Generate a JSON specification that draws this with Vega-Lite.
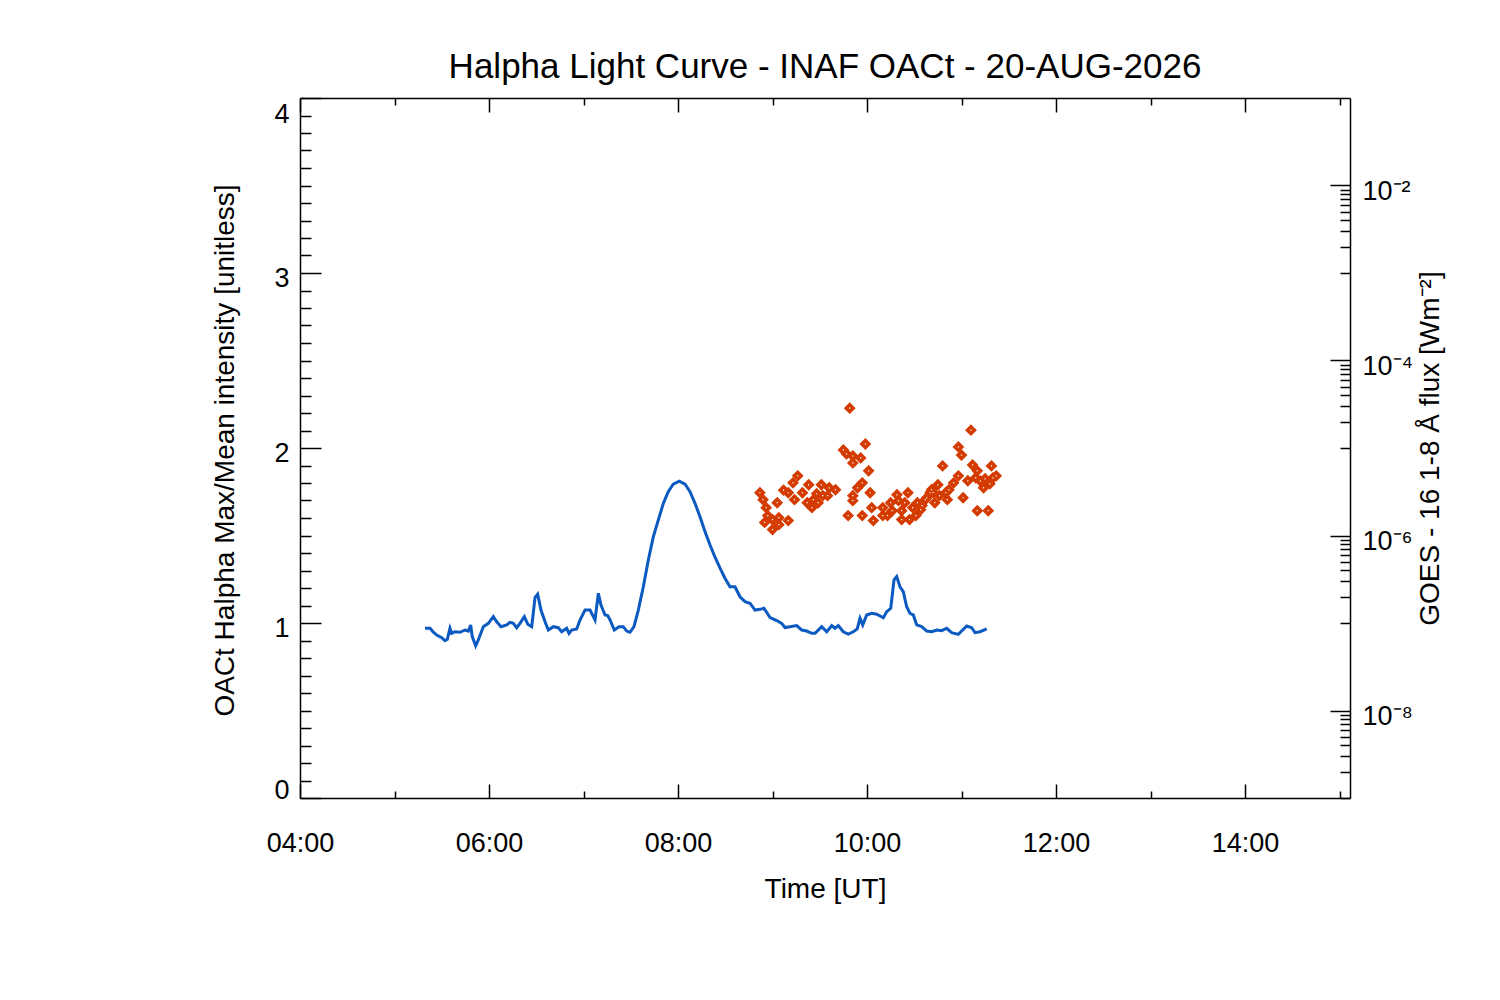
{
  "$schema": "https://vega.github.io/schema/vega-lite/v6.json",
  "autosize": {"type": "none"},
  "width": 1050,
  "height": 700,
  "padding": {"left": 300, "top": 98, "right": 150, "bottom": 202},
  "background": "white",
  "title": {
    "text": "Halpha Light Curve - INAF OACt - 20-AUG-2026",
    "font": "Liberation Sans",
    "fontSize": 35,
    "fontWeight": "normal",
    "color": "black",
    "anchor": "middle",
    "offset": 12
  },
  "config": {
    "view": {"stroke": null},
    "font": "Liberation Sans",
    "axis": {
      "grid": false,
      "domainColor": "black",
      "domainWidth": 1.5,
      "tickColor": "black",
      "tickWidth": 1.5,
      "labelColor": "black",
      "labelFont": "Liberation Sans",
      "labelFontSize": 27,
      "labelOverlap": false,
      "titleColor": "black",
      "titleFont": "Liberation Sans",
      "titleFontSize": 28,
      "titleFontWeight": "normal"
    }
  },
  "layer": [
    {
      "data": {
        "values": [
          {"h": 5.323, "v": 0.970}, {"h": 5.376, "v": 0.970}, {"h": 5.411, "v": 0.947}, {"h": 5.447, "v": 0.931},
          {"h": 5.500, "v": 0.916}, {"h": 5.534, "v": 0.899}, {"h": 5.559, "v": 0.907}, {"h": 5.587, "v": 0.970},
          {"h": 5.605, "v": 0.941}, {"h": 5.640, "v": 0.950}, {"h": 5.693, "v": 0.947}, {"h": 5.746, "v": 0.960},
          {"h": 5.781, "v": 0.954}, {"h": 5.806, "v": 0.989}, {"h": 5.823, "v": 0.922}, {"h": 5.859, "v": 0.870},
          {"h": 5.887, "v": 0.903}, {"h": 5.940, "v": 0.979}, {"h": 5.993, "v": 0.998}, {"h": 6.046, "v": 1.036},
          {"h": 6.082, "v": 1.007}, {"h": 6.127, "v": 0.979}, {"h": 6.187, "v": 0.989}, {"h": 6.222, "v": 1.004},
          {"h": 6.257, "v": 0.998}, {"h": 6.293, "v": 0.973}, {"h": 6.328, "v": 0.998}, {"h": 6.374, "v": 1.036},
          {"h": 6.410, "v": 0.993}, {"h": 6.452, "v": 0.979}, {"h": 6.487, "v": 1.145}, {"h": 6.515, "v": 1.164},
          {"h": 6.550, "v": 1.074}, {"h": 6.593, "v": 1.007}, {"h": 6.628, "v": 0.960}, {"h": 6.681, "v": 0.979},
          {"h": 6.733, "v": 0.973}, {"h": 6.769, "v": 0.950}, {"h": 6.822, "v": 0.970}, {"h": 6.847, "v": 0.941},
          {"h": 6.875, "v": 0.960}, {"h": 6.928, "v": 0.966}, {"h": 6.963, "v": 1.017}, {"h": 7.016, "v": 1.074},
          {"h": 7.069, "v": 1.074}, {"h": 7.104, "v": 1.036}, {"h": 7.122, "v": 1.017}, {"h": 7.157, "v": 1.170},
          {"h": 7.185, "v": 1.103}, {"h": 7.228, "v": 1.046}, {"h": 7.256, "v": 1.042}, {"h": 7.281, "v": 1.017},
          {"h": 7.326, "v": 0.960}, {"h": 7.376, "v": 0.979}, {"h": 7.421, "v": 0.979}, {"h": 7.457, "v": 0.954},
          {"h": 7.492, "v": 0.947}, {"h": 7.534, "v": 0.979}, {"h": 7.580, "v": 1.074}, {"h": 7.633, "v": 1.207},
          {"h": 7.686, "v": 1.360}, {"h": 7.739, "v": 1.493}, {"h": 7.792, "v": 1.589}, {"h": 7.845, "v": 1.684},
          {"h": 7.897, "v": 1.750}, {"h": 7.950, "v": 1.794}, {"h": 8.014, "v": 1.811}, {"h": 8.074, "v": 1.794},
          {"h": 8.127, "v": 1.750}, {"h": 8.180, "v": 1.684}, {"h": 8.233, "v": 1.607}, {"h": 8.286, "v": 1.522},
          {"h": 8.339, "v": 1.446}, {"h": 8.392, "v": 1.376}, {"h": 8.445, "v": 1.313}, {"h": 8.497, "v": 1.256},
          {"h": 8.550, "v": 1.207}, {"h": 8.603, "v": 1.207}, {"h": 8.656, "v": 1.150}, {"h": 8.709, "v": 1.122},
          {"h": 8.762, "v": 1.113}, {"h": 8.815, "v": 1.074}, {"h": 8.868, "v": 1.078}, {"h": 8.910, "v": 1.084},
          {"h": 8.974, "v": 1.031}, {"h": 9.045, "v": 1.014}, {"h": 9.097, "v": 0.998}, {"h": 9.132, "v": 0.974},
          {"h": 9.185, "v": 0.979}, {"h": 9.256, "v": 0.985}, {"h": 9.309, "v": 0.960}, {"h": 9.362, "v": 0.954},
          {"h": 9.415, "v": 0.941}, {"h": 9.450, "v": 0.941}, {"h": 9.521, "v": 0.979}, {"h": 9.574, "v": 0.950},
          {"h": 9.627, "v": 0.985}, {"h": 9.661, "v": 0.970}, {"h": 9.696, "v": 0.985}, {"h": 9.749, "v": 0.950},
          {"h": 9.802, "v": 0.937}, {"h": 9.855, "v": 0.950}, {"h": 9.897, "v": 0.966}, {"h": 9.926, "v": 1.027},
          {"h": 9.955, "v": 0.989}, {"h": 9.997, "v": 1.046}, {"h": 10.050, "v": 1.055}, {"h": 10.103, "v": 1.050},
          {"h": 10.173, "v": 1.030}, {"h": 10.209, "v": 1.065}, {"h": 10.251, "v": 1.084}, {"h": 10.286, "v": 1.246},
          {"h": 10.314, "v": 1.265}, {"h": 10.349, "v": 1.207}, {"h": 10.384, "v": 1.179}, {"h": 10.420, "v": 1.093},
          {"h": 10.455, "v": 1.055}, {"h": 10.490, "v": 1.046}, {"h": 10.526, "v": 0.989}, {"h": 10.579, "v": 0.979},
          {"h": 10.632, "v": 0.954}, {"h": 10.685, "v": 0.950}, {"h": 10.738, "v": 0.960}, {"h": 10.791, "v": 0.956},
          {"h": 10.843, "v": 0.970}, {"h": 10.896, "v": 0.945}, {"h": 10.966, "v": 0.935}, {"h": 11.002, "v": 0.954},
          {"h": 11.055, "v": 0.983}, {"h": 11.108, "v": 0.973}, {"h": 11.143, "v": 0.945}, {"h": 11.196, "v": 0.950},
          {"h": 11.267, "v": 0.966}
        ]
      },
      "layer": [
        {
          "mark": {"type": "line", "color": "#0a5ac2", "strokeWidth": 3},
          "encoding": {
            "x": {
              "field": "h",
              "type": "quantitative",
              "scale": {"domain": [4, 15.1111], "nice": false, "zero": false},
              "axis": {
                "orient": "bottom",
                "values": [4, 6, 8, 10, 12, 14],
                "tickSize": -14,
                "labelExpr": "(datum.value < 10 ? '0' : '') + datum.value + ':00'",
                "labelPadding": 46,
                "labelFlush": false,
                "title": "Time [UT]",
                "titleX": 525,
                "titleY": 99,
                "titleAlign": "center",
                "titleBaseline": "alphabetic"
              }
            },
            "y": {
              "field": "v",
              "type": "quantitative",
              "scale": {"domain": [0, 4], "nice": false},
              "axis": {
                "orient": "left",
                "values": [0, 1, 2, 3, 4],
                "format": "d",
                "tickSize": -21,
                "labelPadding": 32,
                "labelFlush": true,
                "labelFlushOffset": 1.5,
                "labelOffset": 5,
                "title": "OACt Halpha Max/Mean intensity [unitless]",
                "titleX": -67,
                "titleY": 352,
                "titleAngle": 270,
                "titleAlign": "center",
                "titleBaseline": "alphabetic"
              }
            }
          }
        },
        {
          "mark": {"type": "line", "opacity": 0},
          "encoding": {
            "x": {
              "field": "h",
              "type": "quantitative",
              "axis": {
                "orient": "bottom",
                "values": [5, 7, 9, 11, 13, 15],
                "tickSize": -7,
                "labels": false,
                "domain": false,
                "title": null
              }
            },
            "y": {
              "field": "v",
              "type": "quantitative",
              "axis": {
                "orient": "left",
                "values": [0.1, 0.2, 0.3, 0.4, 0.5, 0.6, 0.7, 0.8, 0.9, 1.1, 1.2, 1.3, 1.4, 1.5, 1.6, 1.7, 1.8, 1.9, 2.1, 2.2, 2.3, 2.4, 2.5, 2.6, 2.7, 2.8, 2.9, 3.1, 3.2, 3.3, 3.4, 3.5, 3.6, 3.7, 3.8, 3.9],
                "tickSize": -11,
                "labels": false,
                "domain": false,
                "title": null
              }
            }
          }
        }
      ],
      "resolve": {"axis": {"x": "independent", "y": "independent"}}
    },
    {
      "data": {
        "values": [
          {"h": 9.817, "f": 2.85e-5}, {"h": 11.1, "f": 1.60e-5}, {"h": 9.983, "f": 1.11e-5},
          {"h": 9.75, "f": 9.5e-6}, {"h": 9.783, "f": 8.55e-6}, {"h": 9.85, "f": 8.1e-6},
          {"h": 9.933, "f": 7.7e-6}, {"h": 9.85, "f": 6.76e-6}, {"h": 10.967, "f": 1.03e-5},
          {"h": 11.0, "f": 8.3e-6}, {"h": 10.017, "f": 5.48e-6}, {"h": 10.8, "f": 6.24e-6},
          {"h": 11.117, "f": 6.4e-6}, {"h": 11.317, "f": 6.24e-6}, {"h": 11.167, "f": 5.48e-6},
          {"h": 11.15, "f": 4.56e-6}, {"h": 11.25, "f": 4.45e-6}, {"h": 11.333, "f": 4.56e-6},
          {"h": 11.233, "f": 3.51e-6}, {"h": 11.067, "f": 4.22e-6}, {"h": 10.967, "f": 4.81e-6},
          {"h": 10.917, "f": 4.0e-6}, {"h": 10.867, "f": 3.33e-6}, {"h": 10.833, "f": 3.08e-6},
          {"h": 10.85, "f": 2.57e-6}, {"h": 10.767, "f": 2.85e-6}, {"h": 10.717, "f": 2.37e-6},
          {"h": 10.683, "f": 3.33e-6}, {"h": 10.75, "f": 3.8e-6}, {"h": 11.017, "f": 2.70e-6},
          {"h": 11.167, "f": 1.92e-6}, {"h": 11.283, "f": 1.92e-6}, {"h": 8.867, "f": 3.08e-6},
          {"h": 8.9, "f": 2.57e-6}, {"h": 8.933, "f": 2.08e-6}, {"h": 9.05, "f": 2.37e-6},
          {"h": 8.95, "f": 1.69e-6}, {"h": 9.0, "f": 1.52e-6}, {"h": 9.067, "f": 1.60e-6},
          {"h": 9.167, "f": 1.48e-6}, {"h": 9.0, "f": 1.17e-6}, {"h": 9.067, "f": 1.33e-6},
          {"h": 8.917, "f": 1.41e-6}, {"h": 9.267, "f": 4.81e-6}, {"h": 9.217, "f": 4.0e-6},
          {"h": 9.167, "f": 3.08e-6}, {"h": 9.233, "f": 2.57e-6}, {"h": 9.317, "f": 3.08e-6},
          {"h": 9.383, "f": 3.8e-6}, {"h": 9.367, "f": 2.37e-6}, {"h": 9.433, "f": 2.57e-6},
          {"h": 9.417, "f": 2.08e-6}, {"h": 9.517, "f": 3.8e-6}, {"h": 9.6, "f": 3.51e-6},
          {"h": 9.667, "f": 3.33e-6}, {"h": 9.583, "f": 2.85e-6}, {"h": 9.533, "f": 2.85e-6},
          {"h": 9.483, "f": 2.37e-6}, {"h": 9.95, "f": 4.0e-6}, {"h": 9.9, "f": 3.51e-6},
          {"h": 10.033, "f": 3.08e-6}, {"h": 9.85, "f": 2.85e-6}, {"h": 9.85, "f": 2.50e-6},
          {"h": 10.05, "f": 2.08e-6}, {"h": 9.8, "f": 1.69e-6}, {"h": 9.95, "f": 1.69e-6},
          {"h": 10.067, "f": 1.48e-6}, {"h": 10.167, "f": 1.69e-6}, {"h": 10.167, "f": 2.08e-6},
          {"h": 10.25, "f": 2.37e-6}, {"h": 10.317, "f": 2.92e-6}, {"h": 10.433, "f": 3.08e-6},
          {"h": 10.333, "f": 2.50e-6}, {"h": 10.367, "f": 1.92e-6}, {"h": 10.367, "f": 1.52e-6},
          {"h": 10.483, "f": 2.08e-6}, {"h": 10.45, "f": 1.52e-6}, {"h": 10.517, "f": 1.69e-6},
          {"h": 10.567, "f": 1.97e-6}, {"h": 10.617, "f": 2.57e-6}, {"h": 10.667, "f": 3.08e-6},
          {"h": 10.533, "f": 2.37e-6}, {"h": 10.267, "f": 1.92e-6}, {"h": 10.217, "f": 1.69e-6},
          {"h": 10.4, "f": 2.37e-6}, {"h": 11.367, "f": 4.81e-6}, {"h": 11.3, "f": 3.9e-6},
          {"h": 9.117, "f": 3.3e-6}, {"h": 9.467, "f": 3.0e-6}, {"h": 10.583, "f": 2.2e-6},
          {"h": 10.633, "f": 2.7e-6}, {"h": 10.7, "f": 3.1e-6}, {"h": 11.2, "f": 4.2e-6}
        ]
      },
      "layer": [
        {
          "mark": {"type": "point", "shape": "diamond", "filled": true, "size": 140, "color": "#d43b00", "opacity": 1},
          "encoding": {
            "x": {
              "field": "h",
              "type": "quantitative",
              "scale": {"domain": [4, 15.1111], "nice": false, "zero": false},
              "axis": {
                "orient": "top",
                "values": [4, 6, 8, 10, 12, 14],
                "tickSize": -14,
                "labels": false,
                "title": null
              }
            },
            "y": {
              "field": "f",
              "type": "quantitative",
              "scale": {"type": "log", "domain": [1e-9, 0.1], "nice": false},
              "axis": {
                "orient": "right",
                "values": [1e-8, 1e-6, 1e-4, 0.01],
                "tickSize": -20,
                "labelExpr": "datum.value > 0.005 ? '10⁻²' : datum.value > 0.00005 ? '10⁻⁴' : datum.value > 0.0000005 ? '10⁻⁶' : '10⁻⁸'",
                "labelPadding": 32,
                "labelOffset": 6,
                "labelFlush": false,
                "title": "GOES - 16 1-8 Å flux [Wm⁻²]",
                "titleX": 88,
                "titleY": 350,
                "titleAngle": 270,
                "titleAlign": "center",
                "titleBaseline": "alphabetic"
              }
            }
          }
        },
        {
          "mark": {"type": "point", "shape": "square", "filled": true, "size": 1.5, "color": "white", "opacity": 1},
          "encoding": {
            "x": {
              "field": "h",
              "type": "quantitative",
              "axis": {
                "orient": "top",
                "values": [5, 7, 9, 11, 13, 15],
                "tickSize": -7,
                "labels": false,
                "domain": false,
                "title": null
              }
            },
            "y": {
              "field": "f",
              "type": "quantitative",
              "axis": {
                "orient": "right",
                "values": [1e-9, 2e-9, 3e-9, 4e-9, 5e-9, 6e-9, 7e-9, 8e-9, 9e-9, 1e-7, 2e-7, 3e-7, 4e-7, 5e-7, 6e-7, 7e-7, 8e-7, 9e-7, 1e-5, 2e-5, 3e-5, 4e-5, 5e-5, 6e-5, 7e-5, 8e-5, 9e-5, 0.001, 0.002, 0.003, 0.004, 0.005, 0.006, 0.007, 0.008, 0.009],
                "tickSize": -10,
                "labels": false,
                "domain": false,
                "title": null
              }
            }
          }
        }
      ],
      "resolve": {"axis": {"x": "independent", "y": "independent"}}
    }
  ],
  "resolve": {"scale": {"y": "independent"}, "axis": {"x": "independent", "y": "independent"}}
}
